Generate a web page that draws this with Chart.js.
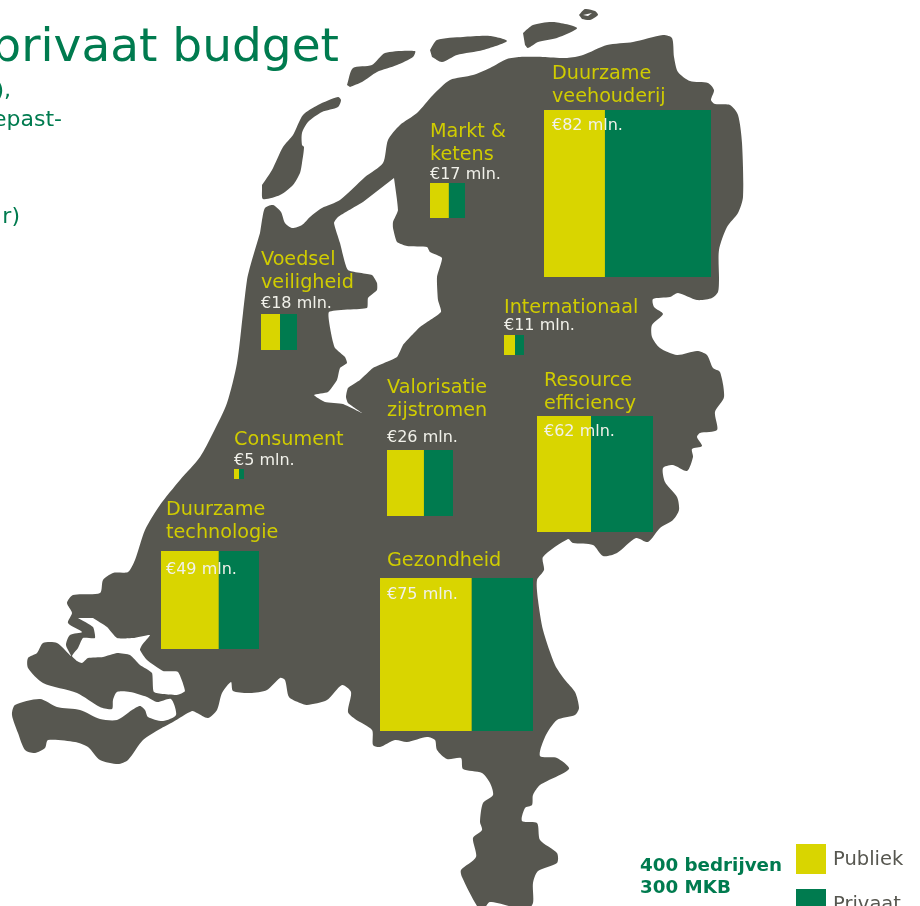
<!DOCTYPE html>
<html>
<head>
<meta charset="utf-8">
<title>Publiek en privaat budget</title>
<script src="https://cdn.jsdelivr.net/npm/chart.js@4"></script>
<style>
  html, body { margin: 0; padding: 0; background: #fff; overflow: hidden; }
  canvas { display: block; }
</style>
</head>
<body>
<canvas id="kaart" width="920" height="906"></canvas>
<script>
// thema's en bedragen
const themaRegels = [['Duurzame', 'veehouderij'], ['Markt &', 'ketens'], ['Voedsel', 'veiligheid'], ['Internationaal'],
  ['Resource', 'efficiency'], ['Valorisatie', 'zijstromen'], ['Consument'], ['Duurzame', 'technologie'], ['Gezondheid']];
const bedragen = [82, 17, 18, 11, 62, 26, 5, 49, 75];
const publiekAandeel = [0.365, 0.54, 0.53, 0.55, 0.466, 0.56, 0.5, 0.59, 0.6];

// plek van elk blok op de kaart
const blokLinks = [544, 430, 261, 504, 537, 387, 234, 161, 380];
const blokBoven = [110, 183, 314, 335, 416, 450, 469, 551, 578];
const blokZijde = [167, 35, 36, 20, 116, 66, 10, 98, 153];
const themaX = [552, 430, 261, 504, 544, 387, 234, 166, 387];
const themaY = [74, 132, 260, 308, 381, 388, 440, 510, 561];
const bedragX = [552, 430, 261, 504, 544, 387, 234, 166, 387];
const bedragY = [126, 175, 304, 326, 432, 438, 461, 570, 595];

// kaart: vasteland en eilanden als [x, y] in kaartcoordinaten
const vasteland = [[262,220],[265,208],[273,205],[281,212],[285,223],[292,228],[302,225],[310,217],[322,208],[340,200],[365,177],[383,163],[388,140],[400,125],[417,113],[433,95],[450,80],[473,75],[490,68],[507,59],[520,57],[543,57],[567,58],[583,55],[607,45],[633,42],[663,35],[672,38],[674,57],[678,72],[690,81],[708,83],[714,90],[711,100],[715,104],[730,105],[738,115],[742,143],[743,197],[738,213],[727,227],[719,250],[719,280],[718,292],[712,298],[697,300],[678,293],[670,297],[653,299],[654,307],[663,314],[652,325],[652,337],[660,348],[677,355],[697,351],[707,355],[713,368],[720,372],[724,397],[715,412],[717,430],[700,433],[697,437],[702,446],[692,449],[693,457],[687,471],[673,465],[663,468],[665,482],[677,497],[679,510],[673,520],[660,528],[648,542],[636,538],[617,553],[603,556],[593,545],[573,543],[568,539],[543,557],[544,570],[537,580],[538,600],[543,630],[555,665],[565,680],[575,692],[579,708],[575,715],[557,720],[545,737],[540,756],[557,758],[569,769],[540,785],[533,795],[532,805],[525,808],[522,821],[537,823],[540,840],[557,853],[557,863],[538,871],[533,883],[533,903],[527,910],[490,902],[483,910],[477,906],[462,877],[461,870],[476,857],[473,838],[482,830],[480,822],[483,803],[493,795],[490,783],[482,773],[463,769],[461,758],[447,759],[437,750],[435,740],[427,737],[407,742],[395,740],[380,747],[373,745],[372,730],[355,719],[348,712],[351,692],[342,685],[327,700],[307,705],[300,703],[289,697],[285,680],[280,678],[267,690],[250,693],[233,691],[231,682],[222,693],[217,710],[208,718],[197,713],[192,711],[173,722],[160,729],[143,740],[128,760],[118,764],[100,760],[88,747],[75,742],[48,740],[45,748],[35,753],[25,750],[18,733],[12,715],[15,705],[40,699],[57,707],[80,710],[100,719],[117,720],[132,710],[140,706],[145,710],[148,717],[163,721],[176,715],[171,699],[157,702],[147,697],[130,692],[117,692],[113,700],[112,709],[100,707],[77,693],[43,683],[28,668],[28,658],[37,653],[43,643],[57,643],[71,656],[66,645],[70,635],[82,632],[68,623],[72,613],[67,603],[73,595],[100,593],[103,580],[113,573],[128,572],[135,560],[145,530],[160,505],[180,480],[200,457],[213,433],[227,403],[237,363],[243,313],[247,280],[250,267],[260,233]];
const texel = [[262,188],[263,199],[280,195],[293,185],[300,173],[302,163],[304,147],[302,145],[302,133],[308,122],[322,112],[338,107],[341,100],[338,97],[318,105],[303,115],[293,135],[283,147],[272,170],[262,185]];
const terschelling = [[347,85],[353,68],[372,65],[385,53],[415,51],[413,57],[397,65],[377,72],[362,82],[350,87]];
const ameland = [[430,50],[437,40],[463,37],[490,36],[507,41],[483,50],[457,55],[442,62],[432,57]];
const schiermonnikoog = [[523,33],[533,25],[553,22],[577,28],[557,38],[538,42],[528,48],[525,45]];
const rottum = [[579,15],[585,9],[595,11],[598,15],[590,20],[582,19]];
// binnenwater, wit over het land
const ijsselmeer = [[394,178],[398,210],[393,222],[393,228],[397,242],[407,246],[427,247],[430,252],[442,258],[437,277],[438,300],[441,312],[420,327],[403,345],[397,357],[373,368],[360,380],[348,388],[346,397],[348,403],[362,413],[343,404],[325,402],[314,395],[328,392],[337,380],[340,368],[347,363],[345,357],[335,348],[332,338],[329,312],[367,308],[368,298],[377,290],[377,283],[372,275],[348,270],[340,243],[334,223],[338,217],[363,202]];
const delta = [[78,618],[93,627],[95,638],[83,638],[78,648],[72,656],[77,661],[82,663],[88,658],[103,657],[117,653],[130,655],[140,665],[152,673],[154,692],[177,695],[185,691],[178,672],[163,671],[147,660],[140,650],[142,645],[150,635],[133,638],[117,638],[107,627],[93,618]];
const rottumGat = [[583,15],[592,13],[588,16]];

// opmaak
const GRIJS = '#575750', GEEL = '#d9d500', GROEN = '#007b4f', THEMAGEEL = '#d0cc00', TEKSTWIT = '#f1f1ea';
const FONT = '"DejaVu Sans", sans-serif';

const vlak = (data, kleur, tension) => ({
  data: data.map(p => ({ x: p[0], y: p[1] })),
  showLine: true, fill: 'shape', backgroundColor: kleur, borderColor: kleur,
  borderWidth: 0, pointRadius: 0, tension: tension
});
const rechthoek = (x1, y1, x2, y2, kleur) => vlak([[x1, y1], [x2, y1], [x2, y2], [x1, y2]], kleur, 0);

const datasets = [
  vlak(vasteland, GRIJS, 0.25), vlak(texel, GRIJS, 0.25), vlak(terschelling, GRIJS, 0.25),
  vlak(ameland, GRIJS, 0.25), vlak(schiermonnikoog, GRIJS, 0.25), vlak(rottum, GRIJS, 0.25),
  vlak(ijsselmeer, '#fff', 0.15), vlak(delta, '#fff', 0.15), vlak(rottumGat, '#fff', 0)
];
bedragen.forEach((b, i) => {
  const x = blokLinks[i], y = blokBoven[i], z = blokZijde[i];
  const grens = x + z * publiekAandeel[i];
  datasets.push(rechthoek(x, y, grens, y + z, GEEL));
  datasets.push(rechthoek(grens, y, x + z, y + z, GROEN));
});
// legenda
datasets.push(rechthoek(796, 844, 826, 874, GEEL));
datasets.push(rechthoek(796, 889, 826, 919, GROEN));
// chart.js tekent de eerste dataset bovenop
datasets.reverse();

const teksten = {
  id: 'teksten',
  afterDatasetsDraw(chart) {
    const { ctx, scales } = chart;
    const zet = (tekst, x, y, font, kleur, uitlijning) => {
      ctx.font = font;
      ctx.fillStyle = kleur;
      ctx.textAlign = uitlijning || 'left';
      ctx.textBaseline = 'middle';
      ctx.fillText(tekst, scales.x.getPixelForValue(x), scales.y.getPixelForValue(y));
    };
    ctx.save();
    themaRegels.forEach((regels, i) => {
      regels.forEach((r, j) => zet(r, themaX[i], themaY[i] + j * 23, '19.2px ' + FONT, THEMAGEEL));
      zet('€' + bedragen[i] + ' mln.', bedragX[i], bedragY[i], '16px ' + FONT, TEKSTWIT);
    });
    zet('privaat budget', 339, 49, '47px ' + FONT, GROEN, 'right');
    zet('),', 11, 91, '22px ' + FONT, GROEN, 'right');
    zet('epast-', 62, 120, '22px ' + FONT, GROEN, 'right');
    zet('r)', 20, 217, '22px ' + FONT, GROEN, 'right');
    zet('400 bedrijven', 640, 866, 'bold 18.3px ' + FONT, GROEN);
    zet('300 MKB', 640, 888, 'bold 18.3px ' + FONT, GROEN);
    zet('Publiek', 833, 860, '19.5px ' + FONT, GRIJS);
    zet('Privaat', 833, 905, '19.5px ' + FONT, GRIJS);
    ctx.restore();
  }
};

new Chart(document.getElementById('kaart'), {
  type: 'scatter',
  data: { datasets },
  options: {
    responsive: false,
    animation: false,
    devicePixelRatio: 1,
    layout: { padding: 0 },
    plugins: { legend: { display: false }, tooltip: { enabled: false } },
    scales: {
      x: { type: 'linear', min: 0, max: 920, display: false },
      y: { type: 'linear', min: 0, max: 906, reverse: true, display: false }
    }
  },
  plugins: [teksten]
});
</script>
</body>
</html>
